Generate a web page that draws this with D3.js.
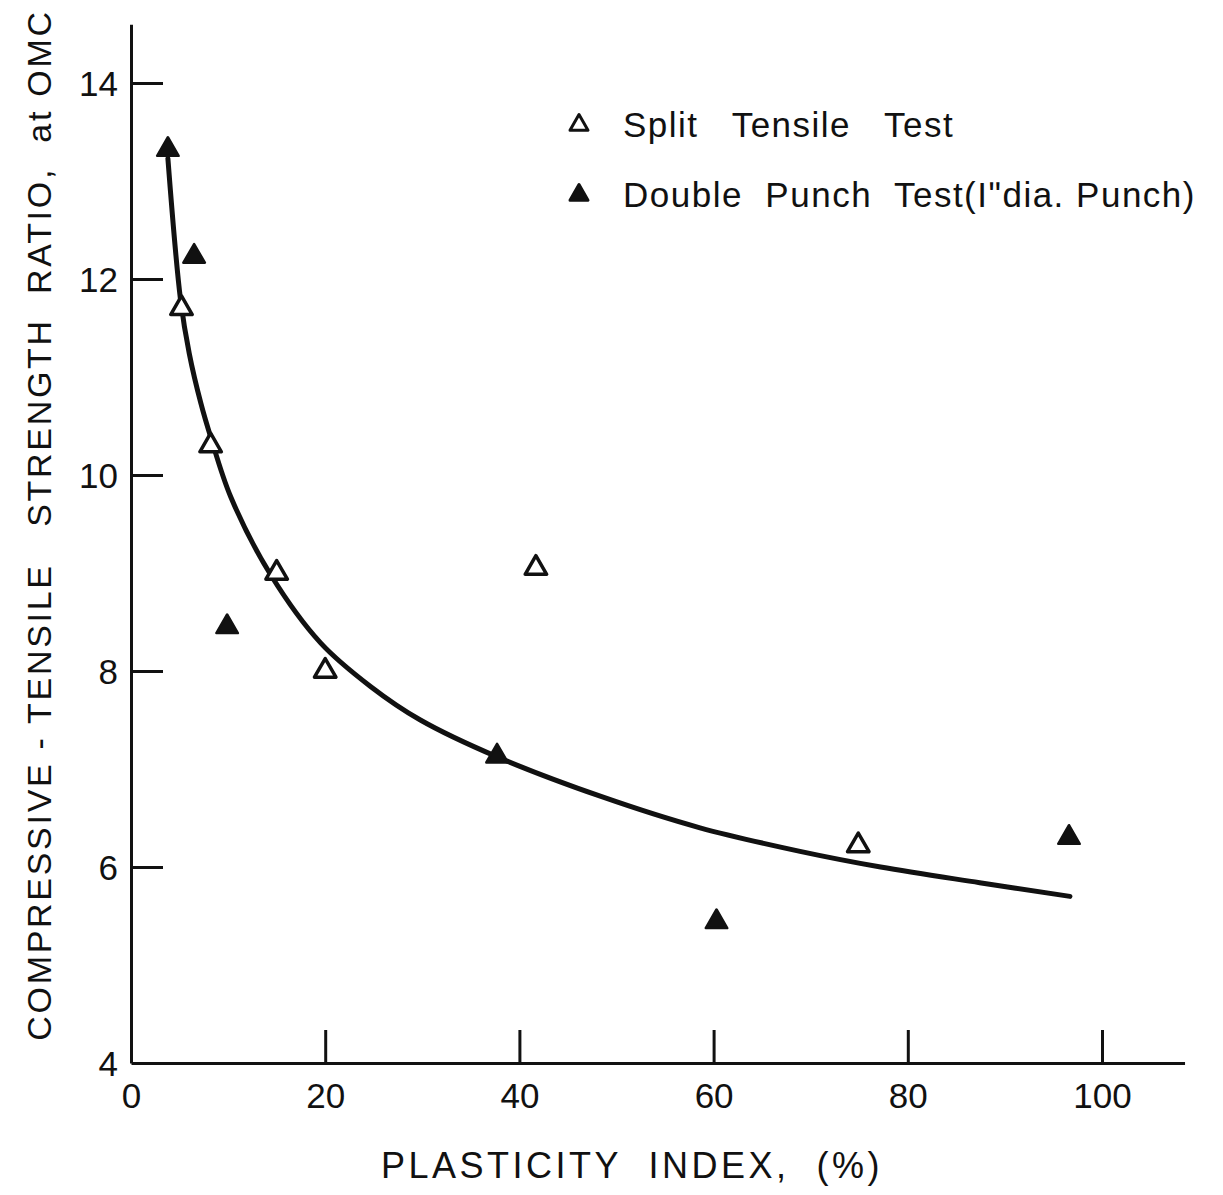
<!DOCTYPE html>
<html>
<head>
<meta charset="utf-8">
<script src="https://cdn.jsdelivr.net/npm/d3@7"></script>
<style>
  body { margin: 0; background: #fff; }
  text { font-family: "Liberation Sans", "DejaVu Sans", sans-serif; fill: #111; }
</style>
</head>
<body>
<div id="chart"></div>
<script>
// datos
var splitPI    = [5.2, 8.2, 15.0, 20.0, 41.7, 74.9];
var splitRatio = [11.7, 10.3, 9.0, 8.0, 9.05, 6.22];

var punchPI    = [3.8, 6.5, 9.9, 37.7, 60.3, 96.6];
var punchRatio = [13.32, 12.23, 8.45, 7.13, 5.44, 6.3];

// curva ajustada (a mano, leida punto a punto)
var curvePI    = [3.8, 5.1, 6.0, 7.2, 8.2, 10.3, 14.4, 19.5, 24.7, 29.8, 37.8, 48.4, 58.6, 68.9, 77.2, 87.4, 96.7];
var curveRatio = [13.23, 11.79, 11.24, 10.73, 10.39, 9.77, 8.98, 8.29, 7.84, 7.5, 7.12, 6.72, 6.4, 6.16, 6.0, 5.84, 5.7];

var xTicks = [0, 20, 40, 60, 80, 100];
var yTicks = [4, 6, 8, 10, 12, 14];

var legendLabels = ["Split   Tensile   Test", "Double  Punch  Test(I\u02BAdia. Punch)"];

var width = 1223, height = 1195;

var svg = d3.select("#chart").append("svg")
    .attr("width", width)
    .attr("height", height);

// escalas
var eX = d3.scaleLinear().domain([0, 108.5]).range([131, 131 + 108.5 * 9.71]);
var eY = d3.scaleLinear().domain([4, 14.6]).range([1063, 1063 - 10.6 * 98]);

// ejes
var xAxis = d3.axisBottom(eX).tickValues(xTicks).tickSizeInner(-33).tickSizeOuter(0).tickPadding(20);
var yAxis = d3.axisLeft(eY).tickValues(yTicks).tickSizeInner(-32).tickSizeOuter(0).tickPadding(13);

var gx = svg.append("g")
    .attr("transform", "translate(0," + eY(4) + ")")
    .call(xAxis);
var gy = svg.append("g")
    .attr("transform", "translate(" + eX(0) + ",0)")
    .call(yAxis);

[gx, gy].forEach(function(g) {
  g.select(".domain").attr("stroke", "#111").attr("stroke-width", 3);
  g.selectAll(".tick line").attr("stroke", "#111").attr("stroke-width", 3);
  g.selectAll(".tick text").attr("font-size", 35).attr("fill", "#111")
    .style("font-family", "Liberation Sans, DejaVu Sans, sans-serif");
});
// sin marcas en el origen
gx.selectAll(".tick").filter(function(d) { return d === 0; }).select("line").remove();
gy.selectAll(".tick").filter(function(d) { return d === 4; }).select("line").remove();
gy.selectAll(".tick text").attr("dy", "0.36em");

// titulos de ejes
svg.append("text")
    .attr("x", 632).attr("y", 1178)
    .attr("text-anchor", "middle")
    .attr("font-size", 36)
    .attr("letter-spacing", 3.5)
    .style("white-space", "pre")
    .text("PLASTICITY  INDEX,  (%)");

svg.append("text")
    .attr("transform", "translate(51,525) rotate(-90)")
    .attr("text-anchor", "middle")
    .attr("font-size", 34)
    .attr("letter-spacing", 2.7)
    .style("white-space", "pre")
    .text("COMPRESSIVE - TENSILE   STRENGTH  RATIO,  at OMC");

// curva
var curveData = curvePI.map(function(d, i) { return [d, curveRatio[i]]; });
var line = d3.line()
    .x(function(d) { return eX(d[0]); })
    .y(function(d) { return eY(d[1]); })
    .curve(d3.curveCatmullRom.alpha(0.5));

svg.append("path")
    .datum(curveData)
    .attr("d", line)
    .attr("fill", "none")
    .attr("stroke", "#111")
    .attr("stroke-width", 5)
    .attr("stroke-linecap", "round");

// triangulos
var tri = d3.symbol().type(d3.symbolTriangle).size(200);

svg.selectAll(".split")
    .data(splitPI)
  .enter().append("path")
    .attr("class", "split")
    .attr("d", tri)
    .attr("transform", function(d, i) { return "translate(" + eX(d) + "," + eY(splitRatio[i]) + ")"; })
    .attr("fill", "#fff")
    .attr("stroke", "#111")
    .attr("stroke-width", 3.5)
    .attr("stroke-linejoin", "round");

svg.selectAll(".punch")
    .data(punchPI)
  .enter().append("path")
    .attr("class", "punch")
    .attr("d", tri)
    .attr("transform", function(d, i) { return "translate(" + eX(d) + "," + eY(punchRatio[i]) + ")"; })
    .attr("fill", "#111")
    .attr("stroke", "#111")
    .attr("stroke-width", 2.5)
    .attr("stroke-linejoin", "round");

// leyenda
var legTri = d3.symbol().type(d3.symbolTriangle).size(140);
var legend = svg.selectAll(".legend")
    .data(legendLabels)
  .enter().append("g")
    .attr("class", "legend")
    .attr("transform", function(d, i) { return "translate(579," + (125 + i * 70) + ")"; });

legend.append("path")
    .attr("d", legTri)
    .attr("fill", function(d, i) { return i === 0 ? "#fff" : "#111"; })
    .attr("stroke", "#111")
    .attr("stroke-width", 3)
    .attr("stroke-linejoin", "round");

legend.append("text")
    .attr("x", 44)
    .attr("y", 12)
    .attr("font-size", 35)
    .attr("letter-spacing", 1.5)
    .style("white-space", "pre")
    .text(function(d) { return d; });
</script>
</body>
</html>
